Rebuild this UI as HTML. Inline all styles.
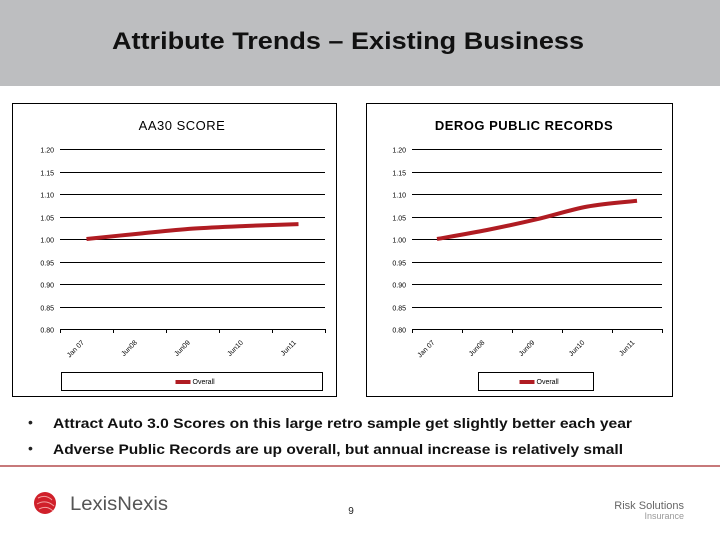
<!DOCTYPE html>
<html><head><meta charset="utf-8"><style>
html,body{margin:0;padding:0;background:#fff;}
svg{display:block;font-family:"Liberation Sans",sans-serif;}
</style></head><body>
<svg width="720" height="540" viewBox="0 0 720 540">
<rect x="0" y="0" width="720" height="86" fill="#bdbec0"/>
<text x="348" y="49" text-anchor="middle" font-size="24" font-weight="bold" textLength="472" lengthAdjust="spacingAndGlyphs" fill="#111">Attribute Trends – Existing Business</text>
<rect x="12.5" y="103.5" width="324" height="293" fill="#fff" stroke="#000"/>
<rect x="366.5" y="103.5" width="306" height="293" fill="#fff" stroke="#000"/>
<g id="chartL"></g>
<g id="chartR"></g>
<text x="28" y="427" font-size="14" fill="#222">•</text>
<text x="53" y="428" font-size="14" font-weight="bold" textLength="579" lengthAdjust="spacingAndGlyphs" fill="#111">Attract Auto 3.0 Scores on this large retro sample get slightly better each year</text>
<text x="28" y="453" font-size="14" fill="#222">•</text>
<text x="53" y="454" font-size="14" font-weight="bold" textLength="570" lengthAdjust="spacingAndGlyphs" fill="#111">Adverse Public Records are up overall, but annual increase is relatively small</text>
<rect x="0" y="465" width="720" height="2" fill="#c7797a"/>
<g>
<circle cx="45" cy="503" r="11" fill="#d0202a"/>
<path d="M38 498 Q46 494 52 500 M37 504 Q46 499 54 506 M39 509 Q47 505 53 511" stroke="#f3a0a0" stroke-width="1" fill="none"/>
<text x="70" y="510" font-size="19" fill="#555" textLength="98" lengthAdjust="spacingAndGlyphs">LexisNexis</text>
</g>
<text x="351" y="514" font-size="10" text-anchor="middle" fill="#222">9</text>
<text x="684" y="509" font-size="11" text-anchor="end" fill="#666">Risk Solutions</text>
<text x="684" y="519" font-size="9" text-anchor="end" fill="#999">Insurance</text>
</svg>
<script>
const categories = ["Jan 07","Jun08","Jun09","Jun10","Jun11"];
const yTicks = [0.80,0.85,0.90,0.95,1.00,1.05,1.10,1.15,1.20];
const yTickLabels = ["0.80","0.85","0.90","0.95","1.00","1.05","1.10","1.15","1.20"];
const aa30Values = [1.000,1.012,1.023,1.029,1.033];
const derogValues = [1.000,1.020,1.044,1.072,1.085];
const NS="http://www.w3.org/2000/svg";
function mk(tag,attrs,parent){const e=document.createElementNS(NS,tag);for(const k in attrs)e.setAttribute(k,attrs[k]);parent.appendChild(e);return e;}
function draw(gid,title,titleX,bold,x0,x1,vals,legX0,legX1,prefix){
  const g=document.getElementById(gid);
  const yTop=149,yBot=329,yMin=0.80,yMax=1.20;
  const ys=v=>yBot-(v-yMin)/(yMax-yMin)*(yBot-yTop);
  const bw=(x1-x0)/categories.length;
  const xs=i=>x0+bw*(i+0.5);
  const t=mk('text',{x:titleX,y:130,'text-anchor':'middle','font-size':13,'font-weight':bold?'bold':'normal',fill:'#000','letter-spacing':'0.5'},g);
  t.textContent=title;
  
  
  yTicks.forEach((v,i)=>{
    const y=Math.round(ys(v))+0.5;
    const l=mk('line',{x1:x0,x2:x1,y1:y,y2:y,stroke:'#000','stroke-width':1},g);
    
    
    const tx=mk('text',{x:x0-6,y:y+3,'text-anchor':'end','font-size':7,fill:'#000'},g);
    tx.textContent=yTickLabels[i];
    
    
  });
  for(let i=0;i<=categories.length;i++){
    const x=Math.round(x0+bw*i)+0.5;
    const tk=mk('line',{x1:x,x2:x,y1:yBot,y2:yBot+4,stroke:'#000'},g);
    
    
  }
  categories.forEach((c,i)=>{
    const x=xs(i)-2,y=yBot+14;
    const tx=mk('text',{x:x,y:y,'text-anchor':'end','font-size':7,fill:'#000',transform:`rotate(-45 ${x} ${y})`},g);
    tx.textContent=c;
    
    
  });
  const pts=vals.map((v,i)=>[xs(i),ys(v)]);
  let d='M'+pts[0][0]+' '+pts[0][1];
  for(let i=1;i<pts.length;i++){
    const p0=pts[Math.max(i-2,0)],p1=pts[i-1],p2=pts[i],p3=pts[Math.min(i+1,pts.length-1)];
    const c1x=p1[0]+(p2[0]-p0[0])/6,c1y=p1[1]+(p2[1]-p0[1])/6;
    const c2x=p2[0]-(p3[0]-p1[0])/6,c2y=p2[1]-(p3[1]-p1[1])/6;
    d+=` C${c1x} ${c1y} ${c2x} ${c2y} ${p2[0]} ${p2[1]}`;
  }
  const ln=mk('path',{d:d,fill:'none',stroke:'#b01c22','stroke-width':4},g);
  
  
  const lb=mk('rect',{x:legX0+0.5,y:372.5,width:legX1-legX0,height:18,fill:'#fff',stroke:'#000'},g);
  
  
  const mid=(legX0+legX1)/2;
  const sw=mk('rect',{x:mid-16,y:380,width:15,height:4,fill:'#b01c22'},g);
  
  
  const lt=mk('text',{x:mid+1,y:384,'font-size':7,fill:'#000'},g);
  lt.textContent='Overall';
  
  
}
draw('chartL','AA30  SCORE',182,false,60,325,aa30Values,61,322,'aa30');
draw('chartR','DEROG PUBLIC RECORDS',524,true,412,662,derogValues,478,593,'derog');
</script>
</body></html>
